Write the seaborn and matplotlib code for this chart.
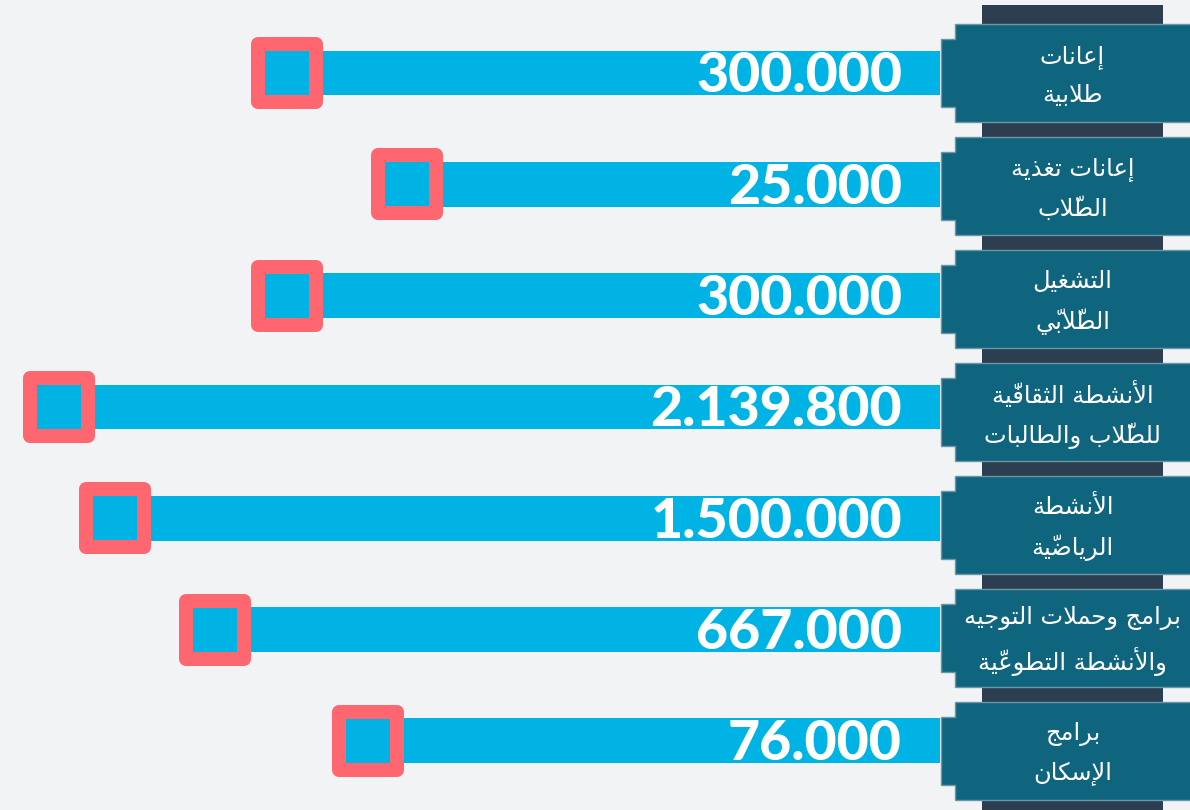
import numpy as np
import pandas as pd
import matplotlib
matplotlib.use("Agg")
import matplotlib.pyplot as plt
import matplotlib.transforms as mtransforms
from matplotlib.patches import Polygon, Rectangle
import seaborn as sns

# ---------------- data ----------------
categories = [
    "إعانات\nطلابية",
    "إعانات تغذية\nالطلّاب",
    "التشغيل\nالطلّابيّ",
    "الأنشطة الثقافيّة\nللطلّاب والطالبات",
    "الأنشطة\nالرياضيّة",
    "برامج وحملات التوجيه\nوالأنشطة التطوعيّة",
    "برامج\nالإسكان",
]
values = [300000, 25000, 300000, 2139800, 1500000, 667000, 76000]
value_labels = [f"{v:,}".replace(",", ".") for v in values]

# ---------------- colours ----------------
BG = "#f2f3f5"
BAR = "#00b3e5"
MARK_EDGE = "#fe6670"
BOX = "#10657e"
BOX_EDGE = "#6a97a8"
STRIP = "#2d3e50"

# ---------------- minimal Arabic shaping (presentation forms) ----------------
_D = dict(zip("بتثجحخسشصضطظعغفقكلمنهيئ",
              [0xFE8F, 0xFE95, 0xFE99, 0xFE9D, 0xFEA1, 0xFEA5, 0xFEB1, 0xFEB5,
               0xFEB9, 0xFEBD, 0xFEC1, 0xFEC5, 0xFEC9, 0xFECD, 0xFED1, 0xFED5,
               0xFED9, 0xFEDD, 0xFEE1, 0xFEE5, 0xFEE9, 0xFEF1, 0xFE89]))
_R = dict(zip("آأؤإاةدذرزوى",
              [0xFE81, 0xFE83, 0xFE85, 0xFE87, 0xFE8D, 0xFE93, 0xFEA9, 0xFEAB,
               0xFEAD, 0xFEAF, 0xFEED, 0xFEEF]))
_LA = dict(zip("آأإا", [0xFEF5, 0xFEF7, 0xFEF9, 0xFEFB]))


def _jt(b):
    if len(b) == 2:
        return "R"
    if b in _D:
        return "D"
    if b in _R:
        return "R"
    return "U"


def shape_line(s):
    clusters = []
    for ch in s:
        if "\u064B" <= ch <= "\u0652" and clusters:
            clusters[-1][1] += ch
            continue
        if ch in _LA and clusters and clusters[-1][0] == "ل":
            clusters[-1][0] = "ل" + ch
            continue
        clusters.append([ch, ""])
    out = []
    n = len(clusters)
    for i, (b, m) in enumerate(clusters):
        t = _jt(b)
        prev = i > 0 and _jt(clusters[i - 1][0]) == "D" and t in "DR"
        nxt = t == "D" and i + 1 < n and _jt(clusters[i + 1][0]) in "DR"
        if len(b) == 2:
            g = chr(_LA[b[1]] + (1 if prev else 0))
        elif t == "D":
            g = chr(_D[b] + (3 if (prev and nxt) else 1 if prev else 2 if nxt else 0))
        elif t == "R":
            g = chr(_R[b] + (1 if prev else 0))
        else:
            g = b
        out.append(g + m)
    return "".join(reversed(out))


def shape(s):
    return "\n".join(shape_line(line) for line in s.split("\n"))


# ---------------- scale (designer's compressed length scale) ----------------
P = 0.4
BASE = 375.5
PX_PER_UNIT = 1.2302


def fwd(v):
    v = np.asarray(v, dtype=float)
    a = np.abs(v)
    return np.where(a == 0, 0.0, np.sign(v) * (BASE + a ** P))


def inv(u):
    u = np.asarray(u, dtype=float)
    a = np.clip(np.abs(u) - BASE, 0, None)
    return np.sign(u) * a ** (1.0 / P)


# ---------------- figure ----------------
W, H = 1190, 810
sns.set_theme(style="white")
plt.rcParams["font.family"] = ["DejaVu Sans"]
fig = plt.figure(figsize=(W / 100, H / 100), dpi=100, facecolor=BG)

AX_W = 940
ax = fig.add_axes([0, 0, AX_W / W, 1])
ax.set_facecolor(BG)

df = pd.DataFrame({"category": categories, "value": values})

sns.barplot(data=df, x="value", y="category", orient="h", color=BAR,
            saturation=1, width=0.404, linewidth=0, ax=ax)
sns.stripplot(data=df, x="value", y="category", orient="h", jitter=False,
              marker="s", size=41.76, color=BAR, edgecolor=MARK_EDGE,
              linewidth=10.08, ax=ax, zorder=4)

ax.set_xscale("function", functions=(fwd, inv))
left_lim = float(inv(AX_W / PX_PER_UNIT))
ax.set_xlim(left_lim, 0)
ROW = 111.33
ylim_top = -73 / ROW
ylim_bot = (H - 73) / ROW
ax.set_ylim(ylim_bot, ylim_top)
ax.set_xticks([])
ax.set_yticks([])
ax.set_xlabel("")
ax.set_ylabel("")
for s in ax.spines.values():
    s.set_visible(False)

# value labels
for i, lab in enumerate(value_labels):
    ax.text(902 / AX_W, i + 19.5 / ROW, lab,
            transform=mtransforms.blended_transform_factory(ax.transAxes, ax.transData),
            ha="right", va="baseline", color="white",
            fontsize=40, fontweight=900, family=["Lato", "DejaVu Sans"], zorder=5)

# ---------------- label boxes ----------------
ax2 = fig.add_axes([AX_W / W, 0, (W - AX_W) / W, 1])
ax2.set_xlim(0, W - AX_W)
ax2.set_ylim(ylim_bot, ylim_top)
ax2.axis("off")
ax2.patch.set_alpha(0)

blend = mtransforms.blended_transform_factory(ax2.transData, ax2.transAxes)
ax2.add_patch(Rectangle((42, 0), 181, 1 - 5 / H, transform=blend,
                        facecolor=STRIP, edgecolor="none", zorder=1))

BOX_STEP = 113 / ROW
hh = 49 / ROW
hn = 34 / ROW
for i, cat in enumerate(categories):
    c = i * BOX_STEP
    verts = [(15, c - hh), (W - AX_W + 5, c - hh), (W - AX_W + 5, c + hh),
             (15, c + hh), (15, c + hn), (0.5, c + hn), (0.5, c - hn), (15, c - hn)]
    ax2.add_patch(Polygon(verts, closed=True, facecolor=BOX, edgecolor=BOX_EDGE,
                          linewidth=1.0, zorder=2, clip_on=False))
    ax2.text((15 + W - AX_W) / 2, c + 3 / ROW, shape(cat), ha="center", va="center",
             color="white", fontsize=17.4, linespacing=1.75,
             family=["DejaVu Sans"], zorder=3)

fig.savefig("out.png", dpi=100, facecolor=BG)
